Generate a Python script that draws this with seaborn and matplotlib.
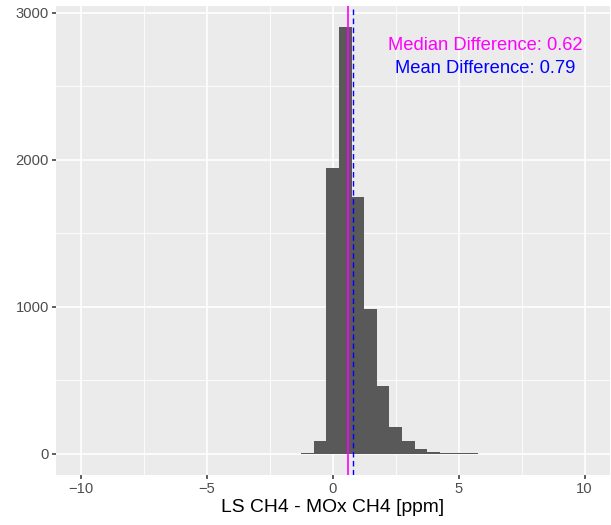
import numpy as np
import pandas as pd
import matplotlib
matplotlib.use("Agg")
import matplotlib.pyplot as plt
import seaborn as sns
from matplotlib.ticker import FixedLocator

# Data (binwidth 0.5, centered on multiples of 0.5)
bin_centers = [-1.0, -0.5, 0.0, 0.5, 1.0, 1.5, 2.0, 2.5, 3.0, 3.5, 4.0, 4.5, 5.0, 5.5, 6.0, 6.5, 7.0]
counts = [7, 86, 1945, 2901, 1749, 984, 459, 179, 86, 29, 14, 4, 3, 2, 1, 0, 1]
median_diff = 0.62
mean_diff = 0.79
x_ticks = [-10, -5, 0, 5, 10]
y_ticks = [0, 1000, 2000, 3000]
x_label = "LS CH4 - MOx CH4 [ppm]"

df = pd.DataFrame({"diff": bin_centers, "n": counts})

sns.set_theme(style="darkgrid")
plt.rcParams['font.family'] = ['Liberation Sans', 'DejaVu Sans']

fig = plt.figure(figsize=(6.11, 5.25), dpi=100)
ax = fig.add_axes([0.0912, 0.0952, 0.998 - 0.0912, 0.9886 - 0.0952])
ax.set_facecolor("#EBEBEB")

sns.histplot(data=df, x="diff", weights="n", binwidth=0.5, binrange=(-1.25, 7.25),
             color="#595959", edgecolor="none", alpha=1.0, ax=ax, zorder=2)

ax.axvline(median_diff, color="#FF00FF", lw=1.2, zorder=3)
ax.axvline(mean_diff, color="#0000FF", lw=1.0, ls=(0, (4, 2.5)), zorder=3)

ax.text(6.05, 2775, f"Median Difference: {median_diff}", color="#FF00FF",
        ha="center", va="center", fontsize=13.2)
ax.text(6.05, 2622, f"Mean Difference: {mean_diff}", color="#0000FF",
        ha="center", va="center", fontsize=13.2)

ax.set_xlim(-11, 11)
ax.set_ylim(-145, 3046)
ax.xaxis.set_major_locator(FixedLocator(x_ticks))
ax.xaxis.set_minor_locator(FixedLocator([-7.5, -2.5, 2.5, 7.5]))
ax.yaxis.set_major_locator(FixedLocator(y_ticks))
ax.yaxis.set_minor_locator(FixedLocator([500, 1500, 2500]))
ax.grid(which="major", color="white", lw=1.2, zorder=0)
ax.grid(which="minor", color="white", lw=0.6, zorder=0)
ax.set_axisbelow(True)
for s in ax.spines.values():
    s.set_visible(False)
ax.tick_params(which="major", length=3, width=1.1, color="#333333",
               labelcolor="#4D4D4D", labelsize=10.6, pad=2, bottom=True, left=True)
ax.tick_params(which="minor", length=0)
ax.set_xlabel(x_label, fontsize=13.9, color="black", labelpad=2)
ax.set_ylabel("")

fig.savefig("out.png", dpi=100)
